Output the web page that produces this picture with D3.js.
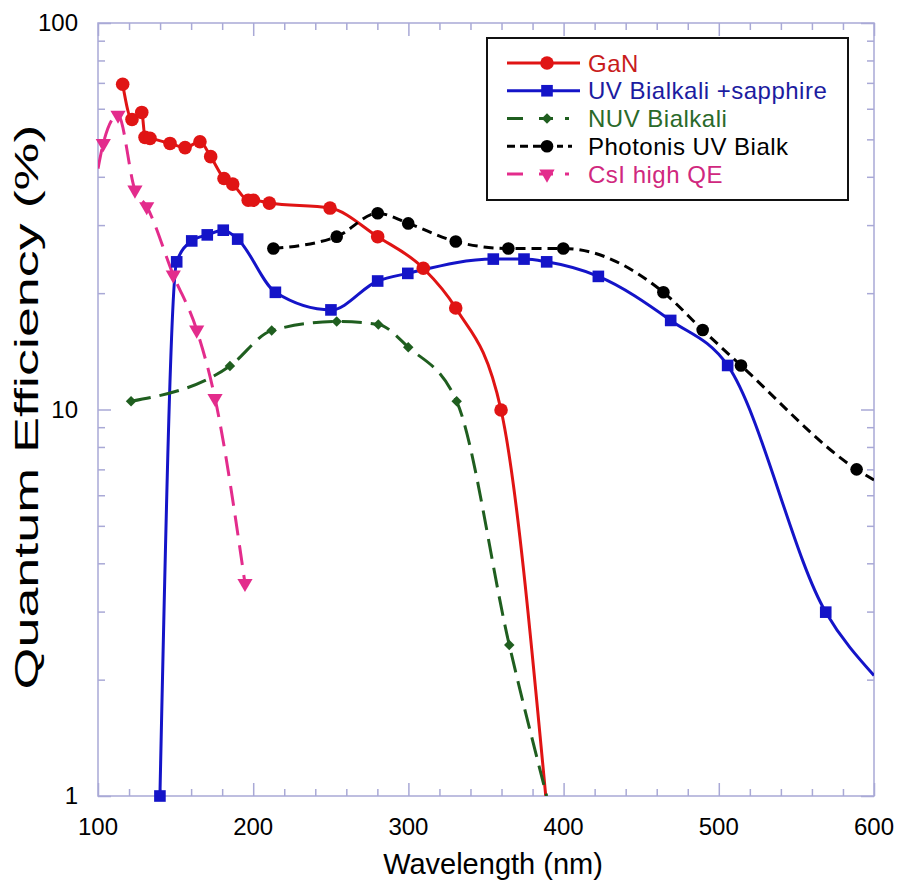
<!DOCTYPE html>
<html>
<head>
<meta charset="utf-8">
<script src="https://cdn.jsdelivr.net/npm/d3@7"></script>
<style>
  html, body { margin: 0; padding: 0; background: #fff; }
  svg { display: block; }
  text { font-family: "Liberation Sans", Arial, Helvetica, sans-serif; }
</style>
</head>
<body>
<svg id="chart" width="897" height="884"></svg>
<script>
// ---------------- data ----------------
const xMajorTicks = [100, 200, 300, 400, 500, 600];
const yTickLabels = [1, 10, 100];

const ganWl  = [115.9, 121.9, 128.2, 130.3, 133.5, 146.4, 156.1, 165.7, 172.6, 181.2, 186.8, 196.8, 200.1, 210.4, 249.5, 280.2, 309.6, 330.5, 359.7, 388.5];
const ganQE  = [69.4, 56.3, 58.7, 50.6, 50.3, 48.8, 47.6, 49.3, 45.1, 39.6, 38.3, 34.8, 34.8, 34.2, 33.2, 28.0, 23.2, 18.3, 9.97, 1.0];

const uvbWl  = [139.9, 150.7, 160.4, 170.4, 180.7, 190.0, 214.3, 250.1, 280.2, 299.6, 354.7, 374.5, 389.1, 422.4, 469.0, 505.7, 568.9, 600];
const uvbQE  = [1.0, 24.1, 27.3, 28.3, 29.1, 27.6, 20.1, 18.1, 21.5, 22.5, 24.5, 24.5, 24.1, 22.1, 17.0, 13.0, 2.99, 2.05];

const nuvWl  = [121.3, 185.0, 211.9, 253.8, 280.6, 299.9, 331.1, 365.0, 389.1];
const nuvQE  = [10.5, 12.96, 16.0, 16.9, 16.6, 14.5, 10.5, 2.46, 1.0];

const phoWl  = [213.0, 253.8, 280.2, 299.9, 330.5, 364.4, 399.8, 464.3, 489.6, 514.3, 588.8, 600];
const phoQE  = [26.1, 28.0, 32.2, 30.3, 27.2, 26.1, 26.1, 20.1, 16.06, 13.0, 7.0, 6.57];

const csiWl  = [100, 103.4, 112.9, 123.8, 131.4, 148.5, 163.6, 175.4, 194.7];
const csiQE  = [42.0, 48.8, 57.8, 37.0, 33.5, 22.3, 16.06, 10.69, 3.55];

const seriesNames = ["GaN", "UV Bialkali +sapphire", "NUV Bialkali", "Photonis UV Bialk", "CsI high QE"];

// ---------------- layout ----------------
const svg = d3.select("#chart");
const L = 98, R = 874, T = 23, B = 796;
const x = d3.scaleLinear().domain([100, 600]).range([L, R]);
const y = d3.scaleLog().domain([1, 100]).range([B, T]);

const axisColor = "#a9a9d6";

svg.append("defs").append("clipPath").attr("id", "plotclip")
  .append("rect").attr("x", L).attr("y", T).attr("width", R - L).attr("height", B - T);

const xMinor = d3.range(100, 601, 20).filter(v => v % 100 !== 0);
const yMinor = [];
[1, 10].forEach(d => { for (let k = 2; k <= 9; k++) yMinor.push(d * k); });

const gAx = svg.append("g");
function tickAxis(axisFn, scale, vals, size, transform) {
  const g = gAx.append("g").attr("transform", transform)
    .call(axisFn(scale).tickValues(vals).tickSize(size).tickFormat(""));
  g.select(".domain").remove();
  g.selectAll("line").attr("stroke", axisColor).attr("stroke-width", 1.5);
  return g;
}
tickAxis(d3.axisTop, x, xMajorTicks, 13, `translate(0,${B})`);
tickAxis(d3.axisTop, x, xMinor, 7, `translate(0,${B})`);
tickAxis(d3.axisBottom, x, xMajorTicks, 13, `translate(0,${T})`);
tickAxis(d3.axisBottom, x, xMinor, 7, `translate(0,${T})`);
tickAxis(d3.axisRight, y, yTickLabels, 13, `translate(${L},0)`);
tickAxis(d3.axisRight, y, yMinor, 7, `translate(${L},0)`);
tickAxis(d3.axisLeft, y, yTickLabels, 13, `translate(${R},0)`);
tickAxis(d3.axisLeft, y, yMinor, 7, `translate(${R},0)`);

gAx.append("rect").attr("x", L).attr("y", T).attr("width", R - L).attr("height", B - T)
  .attr("fill", "none").attr("stroke", axisColor).attr("stroke-width", 1.5);

svg.append("g").selectAll("text").data(xMajorTicks).join("text")
  .attr("x", d => x(d)).attr("y", 835)
  .attr("text-anchor", "middle").attr("font-size", 24).attr("fill", "#000")
  .text(d => d);
svg.append("g").selectAll("text").data(yTickLabels).join("text")
  .attr("x", 78).attr("y", d => y(d) + 8)
  .attr("text-anchor", "end").attr("font-size", 24).attr("fill", "#000")
  .text(d => d);

svg.append("text").attr("x", 493).attr("y", 874).attr("text-anchor", "middle")
  .attr("font-size", 29).attr("fill", "#000").text("Wavelength (nm)");
svg.append("text").attr("transform", `translate(38,407) rotate(-90)`)
  .attr("text-anchor", "middle").attr("font-size", 33).attr("fill", "#000")
  .attr("textLength", 565).attr("lengthAdjust", "spacingAndGlyphs")
  .text("Quantum Efficiency (%)");

// ---------------- series ----------------
const series = [
  { name: seriesNames[0], wl: ganWl, qe: ganQE, color: "#e01414", dash: null, sym: d3.symbolCircle, size: 145, rot: 0, skip: [ganWl.length - 1] },
  { name: seriesNames[1], wl: uvbWl, qe: uvbQE, color: "#1414c8", dash: null, sym: d3.symbolSquare, size: 135, rot: 0, skip: [uvbWl.length - 1] },
  { name: seriesNames[2], wl: nuvWl, qe: nuvQE, color: "#1f5e1f", dash: "20,9", sym: d3.symbolSquare, size: 55, rot: 45, skip: [nuvWl.length - 1] },
  { name: seriesNames[3], wl: phoWl, qe: phoQE, color: "#000000", dash: "10,6", sym: d3.symbolCircle, size: 125, rot: 0, skip: [phoWl.length - 1] },
  { name: seriesNames[4], wl: csiWl, qe: csiQE, color: "#e32c8c", dash: "20,10", sym: d3.symbolTriangle, size: 100, rot: 180, skip: [0] },
];

const line = d3.line().x(d => x(d[0])).y(d => y(d[1])).curve(d3.curveMonotoneX);

const gLines = svg.append("g").attr("clip-path", "url(#plotclip)");
const gMarks = svg.append("g");
series.forEach(s => {
  const pts = s.wl.map((w, i) => [w, s.qe[i]]);
  gLines.append("path").datum(pts)
    .attr("d", line).attr("fill", "none")
    .attr("stroke", s.color).attr("stroke-width", 3)
    .attr("stroke-dasharray", s.dash);
  gMarks.append("g").selectAll("path")
    .data(pts.filter((p, i) => !s.skip.includes(i)))
    .join("path")
    .attr("d", d3.symbol().type(s.sym).size(s.size))
    .attr("transform", d => `translate(${x(d[0])},${y(d[1])}) rotate(${s.rot})`)
    .attr("fill", s.color);
});

// ---------------- legend ----------------
const legendText = ["#c81c1c", "#1c1ca0", "#2a6a2a", "#000000", "#d0287e"];
const legendDash = [null, null, "16,16,14,12,4,200", "8,5,8,5,18,6,6,5,4,200", "16,16,14,12,4,200"];
const lg = svg.append("g");
lg.append("rect").attr("x", 487).attr("y", 38).attr("width", 361).attr("height", 162)
  .attr("fill", "#fff").attr("stroke", "#111").attr("stroke-width", 2);
const rowY = d3.scalePoint().domain(seriesNames).range([63, 174]);
series.forEach((s, i) => {
  const yy = rowY(s.name);
  lg.append("line").attr("x1", 507).attr("x2", 580).attr("y1", yy).attr("y2", yy)
    .attr("stroke", s.color).attr("stroke-width", 3).attr("stroke-dasharray", legendDash[i]);
  lg.append("path").attr("d", d3.symbol().type(s.sym).size(s.size))
    .attr("transform", `translate(547,${yy}) rotate(${s.rot})`).attr("fill", s.color);
  lg.append("text").attr("x", 588).attr("y", yy + 8.5)
    .attr("font-size", 24).attr("letter-spacing", 0.5).attr("fill", legendText[i]).text(s.name);
});
</script>
</body>
</html>
